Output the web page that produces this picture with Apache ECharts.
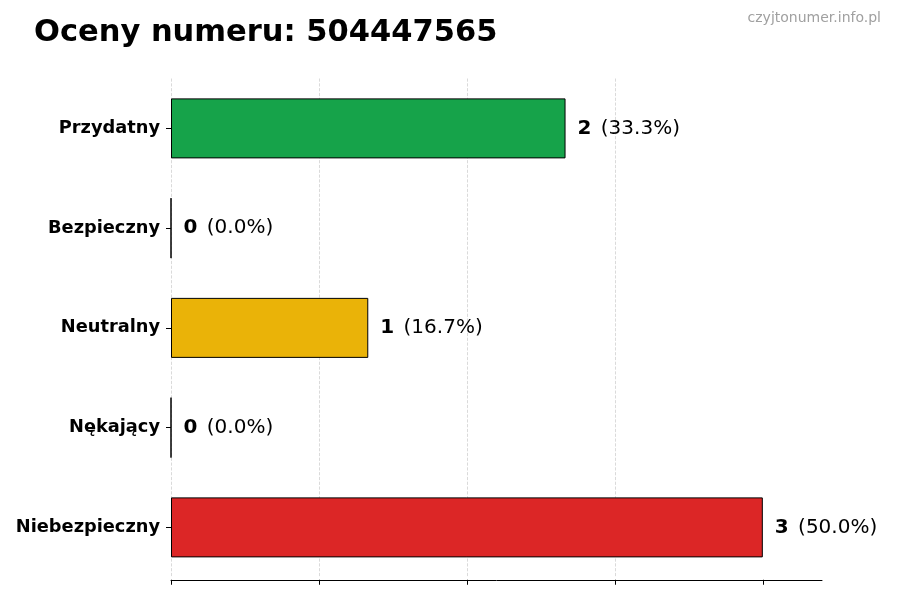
<!DOCTYPE html>
<html>
<head>
<meta charset="utf-8">
<script src="https://cdn.jsdelivr.net/npm/echarts@6/dist/echarts.min.js"></script>
<style>
  html, body { margin: 0; padding: 0; background: #fff; }
  #chart { width: 900px; height: 600px; }
</style>
</head>
<body>
<div id="chart"></div>
<script>
// categories top to bottom as shown
const categories = ['Przydatny', 'Bezpieczny', 'Neutralny', 'Nękający', 'Niebezpieczny']
const counts = [2, 0, 1, 0, 3]
const percents = ['33.3%', '0.0%', '16.7%', '0.0%', '50.0%']
const barColors = ['#16a34a', '#16a34a', '#eab308', '#eab308', '#dc2626']
const xTicks = [0, 0.75, 1.5, 2.25, 3]

const chart = echarts.init(document.getElementById('chart'))

const option = {
  backgroundColor: '#fff',
  animation: false,
  title: [
    {
      text: 'Oceny numeru: 504447565',
      left: 29,
      top: 13,
      textStyle: { fontFamily: 'DejaVu Sans', fontSize: 30.5, fontWeight: 'bold', color: '#000' },
    },
    {
      text: 'czyjtonumer.info.pl',
      right: 14,
      top: 6,
      textStyle: { fontFamily: 'DejaVu Sans', fontSize: 14, fontWeight: 'normal', color: '#a0a0a0' },
    },
  ],
  grid: { left: 171, right: 78, top: 78.5, bottom: 22.75 },
  xAxis: {
    type: 'value',
    min: 0,
    max: 3.3,
    interval: 0.75,
    offset: 2.5,
    axisLine: { show: true, lineStyle: { color: '#000', width: 1 } },
    axisTick: { show: true, length: 5, customValues: xTicks, lineStyle: { color: '#000' } },
    axisLabel: { show: false },
    splitLine: { show: true, showMaxLine: false, lineStyle: { color: '#d0d0d0', type: 'dashed', width: 0.8 } },
  },
  yAxis: {
    type: 'category',
    inverse: true,
    data: categories,
    axisLine: { show: false },
    axisTick: { show: true, length: 5, alignWithLabel: true, lineStyle: { color: '#000' } },
    axisLabel: {
      margin: 11,
      fontFamily: 'DejaVu Sans',
      fontSize: 17.8,
      fontWeight: 'bold',
      color: '#000',
    },
  },
  series: [
    {
      type: 'bar',
      barWidth: 60,
      data: counts.map((v, i) => ({
        value: v,
        itemStyle: { color: barColors[i], borderColor: '#000', borderWidth: 1 },
      })),
      label: {
        show: true,
        position: 'right',
        distance: 12,
        formatter: (p) => '{b|' + p.value + '}{n| (' + percents[p.dataIndex] + ')}',
        rich: {
          b: { fontFamily: 'DejaVu Sans', fontSize: 20, fontWeight: 'bold', color: '#000' },
          n: { fontFamily: 'DejaVu Sans', fontSize: 20, color: '#000', padding: [0, 0, 0, 3] },
        },
      },
    },
  ],
}

chart.setOption(option)
</script>
</body>
</html>
